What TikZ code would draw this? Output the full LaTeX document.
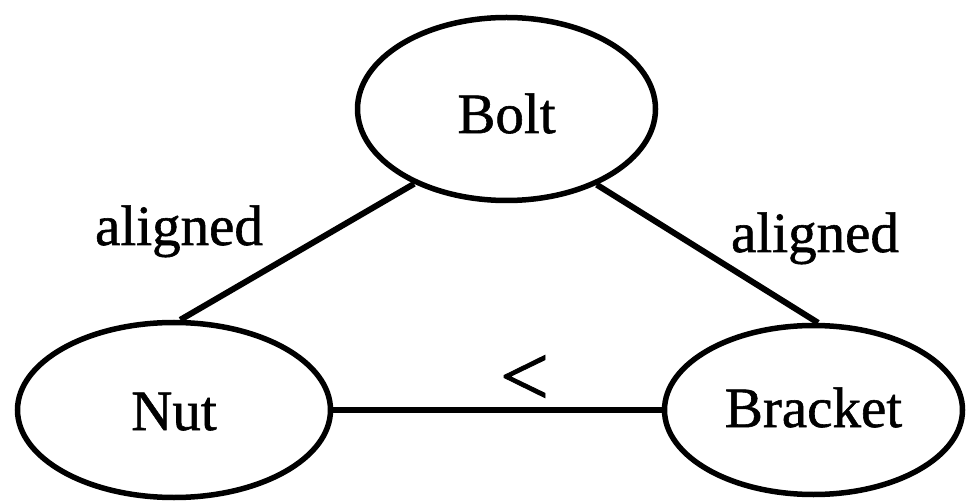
\documentclass[tikz,border=0pt]{standalone}
\usepackage{fontspec}
\setmainfont[FakeBold=1]{Liberation Serif}
\usetikzlibrary{shapes.geometric}
\begin{document}
\begin{tikzpicture}[x=1pt,y=-1pt,
  entity/.style={ellipse, draw, line width=5.5pt, inner sep=0pt,
    font=\fontsize{57}{60}\selectfont, text depth=0pt},
  link/.style={line width=6pt},
  rel/.style={font=\fontsize{57}{60}\selectfont, inner sep=0pt, anchor=base}]
\useasboundingbox (0,0) rectangle (966,502);

% entities
\node[entity, minimum width=298pt, minimum height=183pt, text height=48pt] (bolt) at (506.5,109) {Bolt};
\node[entity, minimum width=313pt, minimum height=175pt, text height=40pt] (nut) at (174,410) {Nut};
\node[entity, minimum width=298pt, minimum height=169pt, text height=34pt] (bracket) at (813.5,410) {Bracket};

% relations
\draw[link] (bolt.219.4) -- (nut.86.2);
\draw[link] (bolt.320.2) -- (bracket.87);
\draw[link] (nut.east) -- (bracket.west);

% relation labels
\node[rel] (alignL) at (179,245) {aligned};
\node[rel] (alignR) at (815,252) {aligned};
\node[font=\fontsize{88}{90}\selectfont, inner sep=0pt] (less) at (524.5,380.5) {<};
\end{tikzpicture}
\end{document}
